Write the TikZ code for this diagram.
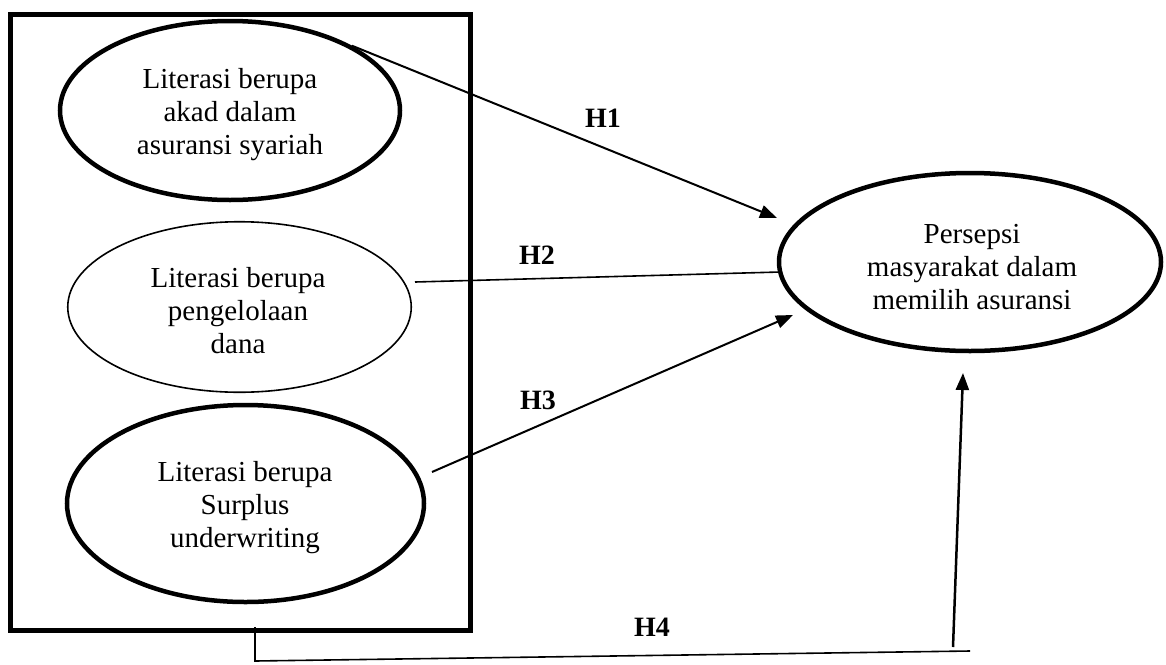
\documentclass[tikz,border=0pt]{standalone}
\usepackage{fontspec}
\setmainfont{Liberation Serif}
\usetikzlibrary{shapes.geometric,arrows.meta}
\begin{document}
\begin{tikzpicture}[x=1pt,y=-1pt,
  thickell/.style={ellipse,draw,line width=4.5pt,inner sep=0pt},
  thinell/.style={ellipse,draw,line width=1.6pt,inner sep=0pt},
  txt/.style={align=center,font=\fontsize{29}{33}\selectfont,inner sep=0pt},
  lbl/.style={font=\fontsize{28}{33}\selectfont\bfseries,inner sep=0pt},
  arr/.style={line width=2pt,-{Triangle[length=17pt,width=13pt]}},
  ln/.style={line width=1.6pt}]
\useasboundingbox (0,0) rectangle (1166,664);
\fill[white] (0,0) rectangle (1166,664);
% frame
\node[draw,line width=5pt,minimum width=460pt,minimum height=616pt,inner sep=0pt] (box) at (240.5,322.5) {};
% ellipses
\node[thickell,minimum width=340pt,minimum height=179pt] (e1) at (230,110.5) {};
\node[thinell,minimum width=343.5pt,minimum height=170.5pt] (e2) at (239.5,307) {};
\node[thickell,minimum width=357pt,minimum height=197pt] (e3) at (245.5,503.5) {};
\node[thickell,minimum width=382pt,minimum height=178pt] (e4) at (970,262) {};
% texts
\node[txt] (t1) at (230,115) {Literasi berupa\\akad dalam\\asuransi syariah};
\node[txt] (t2) at (238,311) {Literasi berupa\\pengelolaan\\dana};
\node[txt] (t3) at (245,508) {Literasi berupa\\Surplus\\underwriting};
\node[txt] (t4) at (972,267) {Persepsi\\masyarakat dalam\\memilih asuransi};
% labels
\node[lbl] (h1) at (603,118) {H1};
\node[lbl] (h2) at (537,255) {H2};
\node[lbl] (h3) at (538,400) {H3};
\node[lbl] (h4) at (652,627) {H4};
% coordinates
\coordinate (h1end) at (777,218);
\coordinate (h2start) at (415,282);
\coordinate (h3start) at (432,472);
\coordinate (h3end) at (793,315);
\coordinate (h4a) at (255,627);
\coordinate (h4b) at (255,662);
\coordinate (h4c) at (255,661);
\coordinate (h4d) at (970,651);
\coordinate (h4e) at (953,647);
\coordinate (h4f) at (963,373);
% connectors
\draw[arr] (e1.28.8) -- (h1end);
\draw[ln] (h2start) -- (e4.183.3);
\draw[arr] (h3start) -- (h3end);
\draw[ln] (h4a) -- (h4b);
\draw[ln] (h4c) -- (h4d);
\draw[arr,line width=2.5pt] (h4e) -- (h4f);
\end{tikzpicture}
\end{document}
